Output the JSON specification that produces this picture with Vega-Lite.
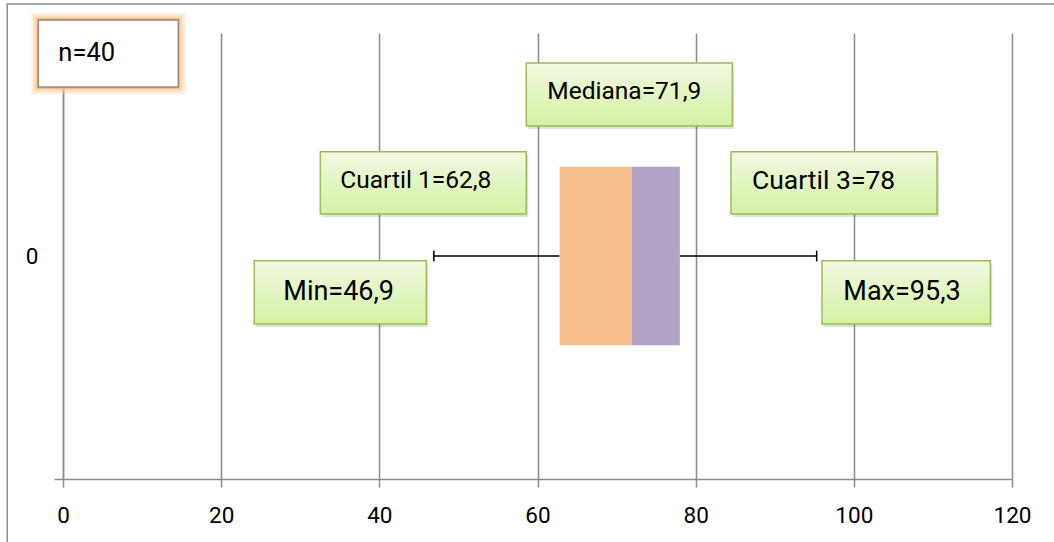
{
  "$schema": "https://vega.github.io/schema/vega-lite/v6.json",
  "width": 949,
  "height": 446,
  "autosize": {"type": "none"},
  "padding": {"left": 63, "top": 33, "right": 42, "bottom": 63},
  "background": "#ffffff",
  "config": {
    "view": {"stroke": null},
    "font": "Roboto",
    "text": {"font": "Roboto", "color": "#000000"}
  },
  "datasets": {
    "stats": [
      {"n": 40, "min": 46.9, "q1": 62.8, "median": 71.9, "q3": 78, "max": 95.3}
    ]
  },
  "data": {"name": "stats"},
  "encoding": {
    "x": {
      "type": "quantitative",
      "scale": {"domain": [0, 120], "nice": false, "zero": false},
      "axis": {
        "title": null,
        "values": [0, 20, 40, 60, 80, 100, 120],
        "grid": true,
        "gridColor": "#8c8c8c",
        "gridWidth": 1.5,
        "domainColor": "#8c8c8c",
        "domainWidth": 1.5,
        "tickColor": "#8c8c8c",
        "tickWidth": 1.5,
        "tickSize": 8,
        "labelFont": "Roboto",
        "labelFontSize": 22.5,
        "labelColor": "#000000",
        "labelPadding": 17,
        "labelFlush": false
      }
    },
    "y": {
      "type": "quantitative",
      "scale": {"domain": [-1, 1], "nice": false, "zero": false},
      "axis": {
        "title": null,
        "values": [-1, 0, 1],
        "labelExpr": "datum.value === 0 ? '0' : ''",
        "grid": false,
        "domainColor": "#8c8c8c",
        "domainWidth": 1.5,
        "tickColor": "#8c8c8c",
        "tickWidth": 1.5,
        "tickSize": 9,
        "tickOpacity": {"condition": {"test": "datum.value === 0", "value": 0}, "value": 1},
        "labelFont": "Roboto",
        "labelFontSize": 22.5,
        "labelColor": "#000000",
        "labelPadding": 16
      }
    }
  },
  "layer": [
    {
      "mark": {"type": "rect", "fill": null, "stroke": "#8c8c8c", "strokeWidth": 1.5, "clip": false},
      "encoding": {
        "x": {"datum": -7.05},
        "x2": {"datum": 135},
        "y": {"datum": 1.13},
        "y2": {"datum": -1.6}
      }
    },
    {
      "mark": {"type": "rule", "color": "#000000", "strokeWidth": 1.5},
      "encoding": {"x": {"field": "min"}, "x2": {"field": "q1"}, "y": {"datum": 0}}
    },
    {
      "mark": {"type": "rule", "color": "#000000", "strokeWidth": 1.5},
      "encoding": {"x": {"field": "q3"}, "x2": {"field": "max"}, "y": {"datum": 0}}
    },
    {
      "mark": {"type": "rule", "color": "#000000", "strokeWidth": 1.5},
      "encoding": {"x": {"field": "min"}, "y": {"datum": 0.024}, "y2": {"datum": -0.024}}
    },
    {
      "mark": {"type": "rule", "color": "#000000", "strokeWidth": 1.5},
      "encoding": {"x": {"field": "max"}, "y": {"datum": 0.024}, "y2": {"datum": -0.024}}
    },
    {
      "mark": {"type": "rect", "color": "#F9C08F"},
      "encoding": {"x": {"field": "q1"}, "x2": {"field": "median"}, "y": {"datum": 0.4}, "y2": {"datum": -0.4}}
    },
    {
      "mark": {"type": "rect", "color": "#B2A2C8"},
      "encoding": {"x": {"field": "median"}, "x2": {"field": "q3"}, "y": {"datum": 0.4}, "y2": {"datum": -0.4}}
    },
    {
      "data": {"values": [{"label": "n=40"}]},
      "layer": [
        {
          "mark": {"type": "rect", "fill": null, "stroke": "#FBD2A8", "strokeWidth": 14, "strokeOpacity": 0.35, "clip": false},
          "encoding": {"x": {"datum": -3.12}, "x2": {"datum": 14.58}, "y": {"datum": 1.058}, "y2": {"datum": 0.758}}
        },
        {
          "mark": {"type": "rect", "fill": null, "stroke": "#FBC994", "strokeWidth": 9, "strokeOpacity": 0.5, "clip": false},
          "encoding": {"x": {"datum": -3.12}, "x2": {"datum": 14.58}, "y": {"datum": 1.058}, "y2": {"datum": 0.758}}
        },
        {
          "mark": {"type": "rect", "fill": "#ffffff", "stroke": "#F7A95C", "strokeWidth": 4, "strokeOpacity": 0.6, "clip": false},
          "encoding": {"x": {"datum": -3.12}, "x2": {"datum": 14.58}, "y": {"datum": 1.058}, "y2": {"datum": 0.758}}
        },
        {
          "mark": {"type": "rect", "fill": "#ffffff", "stroke": "#8f8a86", "strokeWidth": 1.5, "clip": false},
          "encoding": {"x": {"datum": -3.12}, "x2": {"datum": 14.58}, "y": {"datum": 1.058}, "y2": {"datum": 0.758}}
        },
        {
          "mark": {"type": "text", "align": "left", "baseline": "middle", "fontSize": 25.5, "clip": false},
          "encoding": {"x": {"datum": -0.59}, "y": {"datum": 0.911}, "text": {"field": "label"}}
        }
      ]
    },
    {
      "data": {"values": [{"label": "Mediana=71,9"}]},
      "layer": [
        {
          "mark": {"type": "rect", "fill": "#000000", "opacity": 0.12, "xOffset": 2, "x2Offset": 2, "yOffset": 3, "y2Offset": 3},
          "encoding": {"x": {"datum": 58.58}, "x2": {"datum": 84.63}, "y": {"datum": 0.865}, "y2": {"datum": 0.583}}
        },
        {
          "mark": {
            "type": "rect",
            "stroke": "#9BBB59",
            "strokeWidth": 1.5,
            "fill": {"gradient": "linear", "x1": 0, "y1": 0, "x2": 0, "y2": 1, "stops": [{"offset": 0, "color": "#F0F9E2"}, {"offset": 1, "color": "#D5F2A2"}]}
          },
          "encoding": {"x": {"datum": 58.58}, "x2": {"datum": 84.63}, "y": {"datum": 0.865}, "y2": {"datum": 0.583}}
        },
        {
          "mark": {"type": "text", "align": "left", "baseline": "middle", "fontSize": 24.5},
          "encoding": {"x": {"datum": 61.24}, "y": {"datum": 0.734}, "text": {"field": "label"}}
        }
      ]
    },
    {
      "data": {"values": [{"label": "Cuartil 1=62,8"}]},
      "layer": [
        {
          "mark": {"type": "rect", "fill": "#000000", "opacity": 0.12, "xOffset": 2, "x2Offset": 2, "yOffset": 3, "y2Offset": 3},
          "encoding": {"x": {"datum": 32.54}, "x2": {"datum": 58.58}, "y": {"datum": 0.468}, "y2": {"datum": 0.188}}
        },
        {
          "mark": {
            "type": "rect",
            "stroke": "#9BBB59",
            "strokeWidth": 1.5,
            "fill": {"gradient": "linear", "x1": 0, "y1": 0, "x2": 0, "y2": 1, "stops": [{"offset": 0, "color": "#F0F9E2"}, {"offset": 1, "color": "#D5F2A2"}]}
          },
          "encoding": {"x": {"datum": 32.54}, "x2": {"datum": 58.58}, "y": {"datum": 0.468}, "y2": {"datum": 0.188}}
        },
        {
          "mark": {"type": "text", "align": "left", "baseline": "middle", "fontSize": 24.5},
          "encoding": {"x": {"datum": 35.07}, "y": {"datum": 0.336}, "text": {"field": "label"}}
        }
      ]
    },
    {
      "data": {"values": [{"label": "Cuartil 3=78"}]},
      "layer": [
        {
          "mark": {"type": "rect", "fill": "#000000", "opacity": 0.12, "xOffset": 2, "x2Offset": 2, "yOffset": 3, "y2Offset": 3},
          "encoding": {"x": {"datum": 84.47}, "x2": {"datum": 110.52}, "y": {"datum": 0.468}, "y2": {"datum": 0.188}}
        },
        {
          "mark": {
            "type": "rect",
            "stroke": "#9BBB59",
            "strokeWidth": 1.5,
            "fill": {"gradient": "linear", "x1": 0, "y1": 0, "x2": 0, "y2": 1, "stops": [{"offset": 0, "color": "#F0F9E2"}, {"offset": 1, "color": "#D5F2A2"}]}
          },
          "encoding": {"x": {"datum": 84.47}, "x2": {"datum": 110.52}, "y": {"datum": 0.468}, "y2": {"datum": 0.188}}
        },
        {
          "mark": {"type": "text", "align": "left", "baseline": "middle", "fontSize": 26.5},
          "encoding": {"x": {"datum": 87.12}, "y": {"datum": 0.336}, "text": {"field": "label"}}
        }
      ]
    },
    {
      "data": {"values": [{"label": "Min=46,9"}]},
      "layer": [
        {
          "mark": {"type": "rect", "fill": "#000000", "opacity": 0.12, "xOffset": 2, "x2Offset": 2, "yOffset": 3, "y2Offset": 3},
          "encoding": {"x": {"datum": 24.19}, "x2": {"datum": 45.94}, "y": {"datum": -0.021}, "y2": {"datum": -0.305}}
        },
        {
          "mark": {
            "type": "rect",
            "stroke": "#9BBB59",
            "strokeWidth": 1.5,
            "fill": {"gradient": "linear", "x1": 0, "y1": 0, "x2": 0, "y2": 1, "stops": [{"offset": 0, "color": "#F0F9E2"}, {"offset": 1, "color": "#D5F2A2"}]}
          },
          "encoding": {"x": {"datum": 24.19}, "x2": {"datum": 45.94}, "y": {"datum": -0.021}, "y2": {"datum": -0.305}}
        },
        {
          "mark": {"type": "text", "align": "left", "baseline": "middle", "fontSize": 27},
          "encoding": {"x": {"datum": 27.86}, "y": {"datum": -0.163}, "text": {"field": "label"}}
        }
      ]
    },
    {
      "data": {"values": [{"label": "Max=95,3"}]},
      "layer": [
        {
          "mark": {"type": "rect", "fill": "#000000", "opacity": 0.12, "xOffset": 2, "x2Offset": 2, "yOffset": 3, "y2Offset": 3},
          "encoding": {"x": {"datum": 95.98}, "x2": {"datum": 117.26}, "y": {"datum": -0.021}, "y2": {"datum": -0.305}}
        },
        {
          "mark": {
            "type": "rect",
            "stroke": "#9BBB59",
            "strokeWidth": 1.5,
            "fill": {"gradient": "linear", "x1": 0, "y1": 0, "x2": 0, "y2": 1, "stops": [{"offset": 0, "color": "#F0F9E2"}, {"offset": 1, "color": "#D5F2A2"}]}
          },
          "encoding": {"x": {"datum": 95.98}, "x2": {"datum": 117.26}, "y": {"datum": -0.021}, "y2": {"datum": -0.305}}
        },
        {
          "mark": {"type": "text", "align": "left", "baseline": "middle", "fontSize": 27},
          "encoding": {"x": {"datum": 98.67}, "y": {"datum": -0.163}, "text": {"field": "label"}}
        }
      ]
    }
  ]
}
